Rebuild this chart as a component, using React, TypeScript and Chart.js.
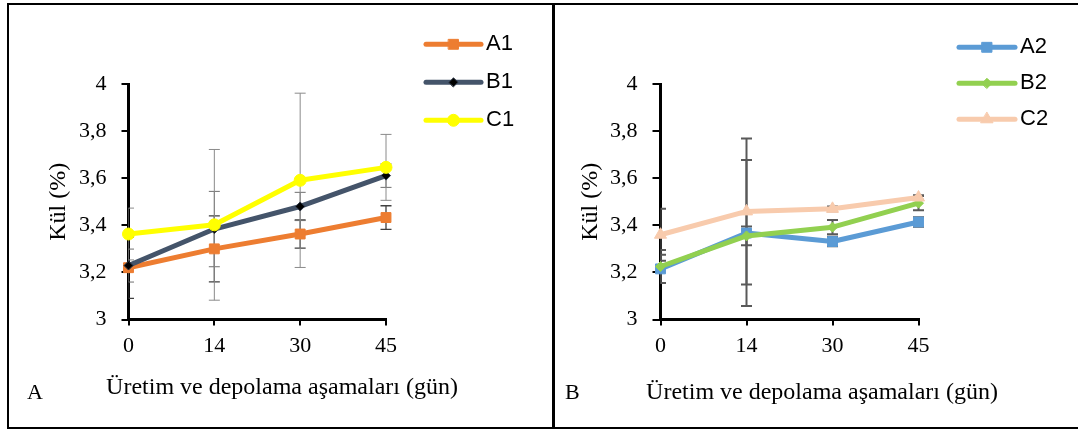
import React, { useEffect, useRef } from 'react';
import { Chart, registerables, PointElement } from 'chart.js';

Chart.register(...registerables);

// ---------- data ----------
const categories = ['0', '14', '30', '45'];
const yTicks = [3, 3.2, 3.4, 3.6, 3.8, 4];

const seriesLeftLabels = ['A1', 'B1', 'C1'];
const a1 = [3.22, 3.30, 3.363, 3.433];
const b1 = [3.229, 3.384, 3.48, 3.611];
const c1 = [3.363, 3.402, 3.591, 3.646];
const a1Err = [0.13, 0.14, 0.06, 0.05];
const b1Err = [0.07, 0.16, 0.06, 0.05];
const c1Err = [0.11, 0.32, 0.37, 0.14];

const seriesRightLabels = ['A2', 'B2', 'C2'];
const a2 = [3.215, 3.367, 3.331, 3.414];
const b2 = [3.225, 3.355, 3.392, 3.494];
const c2 = [3.36, 3.459, 3.47, 3.518];
const a2Err = [0.06, 0.31, 0.02, 0.02];
const b2Err = [0.07, 0.04, 0.03, 0.03];
const c2Err = [0.11, 0.31, 0.01, 0.01];

const xTitle = 'Üretim ve depolama aşamaları (gün)';
const yTitle = 'Kül (%)';

const SERIF = '"Liberation Serif", "Times New Roman", serif';
const SANS = '"Liberation Sans", Arial, sans-serif';

// ---------- plugins ----------
const errorBarPlugin = {
  id: 'errorBars',
  beforeDatasetsDraw(chart: any, _args: any, opts: any) {
    const { ctx, chartArea } = chart;
    const yScale = chart.scales.y;
    ctx.save();
    ctx.beginPath();
    ctx.rect(chartArea.left, chartArea.top - 4, chartArea.right - chartArea.left + 20, chartArea.bottom - chartArea.top + 4);
    ctx.clip();
    chart.data.datasets.forEach((d: any, i: number) => {
      const meta = chart.getDatasetMeta(i);
      (d.errors as number[]).forEach((e: number, j: number) => {
        const v = d.data[j];
        const x = meta.data[j].x;
        const yt = yScale.getPixelForValue(v + e);
        const yb = yScale.getPixelForValue(v - e);
        const cap = opts.cap;
        ctx.strokeStyle = d.errorColor;
        ctx.lineWidth = d.errorWidth;
        ctx.beginPath();
        ctx.moveTo(x, yt);
        ctx.lineTo(x, yb);
        ctx.moveTo(x - cap, yt);
        ctx.lineTo(x + cap, yt);
        ctx.moveTo(x - cap, yb);
        ctx.lineTo(x + cap, yb);
        ctx.stroke();
      });
    });
    ctx.restore();
  },
};

const lineLegendPlugin = {
  id: 'lineLegend',
  afterDraw(chart: any, _args: any, opts: any) {
    const { ctx } = chart;
    chart.data.datasets.forEach((d: any, i: number) => {
      const y = opts.y + i * opts.spacing;
      ctx.save();
      ctx.strokeStyle = d.borderColor;
      ctx.lineWidth = d.borderWidth;
      ctx.lineCap = 'round';
      ctx.beginPath();
      ctx.moveTo(opts.x, y);
      ctx.lineTo(opts.x + opts.length, y);
      ctx.stroke();
      const el = chart.getDatasetMeta(i).data[0] as any;
      const pt: any = new PointElement({ x: opts.x + opts.length / 2, y, options: el.options } as any);
      pt.draw(ctx);
      ctx.fillStyle = '#000';
      ctx.font = `${opts.fontSize}px ${SANS}`;
      ctx.textBaseline = 'middle';
      ctx.textAlign = 'left';
      ctx.fillText(d.label, opts.x + opts.length + opts.gap, y);
      ctx.restore();
    });
  },
};

// ---------- config ----------
type Series = {
  label: string; data: number[]; errors: number[]; color: string; style: string;
  radius: number; bg: string; pbc: string; errColor: string; errWidth: number; order: number;
};

function makeDataset(s: Series) {
  return {
    label: s.label,
    data: s.data,
    errors: s.errors,
    errorColor: s.errColor,
    errorWidth: s.errWidth,
    borderColor: s.color,
    backgroundColor: s.color,
    borderWidth: 5,
    borderJoinStyle: 'round',
    borderCapStyle: 'round',
    pointStyle: s.style,
    pointRadius: s.radius,
    pointBackgroundColor: s.bg,
    pointBorderColor: s.pbc,
    pointBorderWidth: 1,
    tension: 0,
    order: s.order,
    clip: 14,
  };
}

type Geo = {
  padLeft: number; yWidth: number; yTitlePad: number; rightWidth: number;
  titlePadTop: number; titlePadBottom: number; yTickLen: number; yTickPad: number;
  legend: { x: number; y: number; spacing: number; length: number; gap: number; fontSize: number };
};

function makeConfig(series: Series[], g: Geo): any {
  return {
    type: 'line',
    data: { labels: categories, datasets: series.map(makeDataset) },
    plugins: [errorBarPlugin, lineLegendPlugin],
    options: {
      responsive: false,
      animation: false,
      events: [],
      layout: { padding: { left: g.padLeft, right: 0, top: 79, bottom: 0 } },
      plugins: {
        legend: { display: false },
        tooltip: { enabled: false },
        title: {
          display: true,
          position: 'bottom',
          fullSize: true,
          text: xTitle,
          color: '#000',
          font: { family: SERIF, size: 24, weight: 'normal', lineHeight: 1.2 },
          padding: { top: g.titlePadTop, bottom: g.titlePadBottom },
        },
        errorBars: { cap: 5.5 },
        lineLegend: g.legend,
      },
      scales: {
        x: {
          type: 'category',
          offset: false,
          afterFit: (s: any) => { s.height = 45; },
          grid: { display: true, drawOnChartArea: false, drawTicks: true, tickLength: 6, color: '#000', lineWidth: 2 },
          border: { display: true, color: '#000', width: 3 },
          ticks: { color: '#000', font: { family: SERIF, size: 22 }, padding: 8, maxRotation: 0 },
        },
        y: {
          type: 'linear',
          min: 3,
          max: 4,
          afterBuildTicks: (s: any) => { s.ticks = yTicks.map((v) => ({ value: v })); },
          afterFit: (s: any) => { s.width = g.yWidth; },
          grid: { display: true, drawOnChartArea: false, drawTicks: true, tickLength: g.yTickLen, color: '#000', lineWidth: 2 },
          border: { display: true, color: '#000', width: 3 },
          ticks: {
            color: '#000',
            font: { family: SERIF, size: 22 },
            padding: g.yTickPad,
            callback: (v: any) => String(Math.round(Number(v) * 10) / 10).replace('.', ','),
          },
          title: {
            display: true,
            text: yTitle,
            color: '#000',
            font: { family: SERIF, size: 24, lineHeight: 1.2 },
            padding: { top: g.yTitlePad, bottom: 0 },
          },
        },
        yr: {
          type: 'linear',
          position: 'right',
          display: true,
          afterFit: (s: any) => { s.width = g.rightWidth; },
          grid: { display: false },
          border: { display: false },
          ticks: { display: false },
        },
      },
    },
  };
}

const leftSeries: Series[] = [
  { label: seriesLeftLabels[0], data: a1, errors: a1Err, color: '#ED7D31', style: 'rect', radius: 7, bg: '#ED7D31', pbc: '#ED7D31', errColor: '#404040', errWidth: 1.3, order: 2 },
  { label: seriesLeftLabels[1], data: b1, errors: b1Err, color: '#44546A', style: 'rectRot', radius: 4.5, bg: '#000000', pbc: '#2b3545', errColor: '#6f6f6f', errWidth: 1, order: 1 },
  { label: seriesLeftLabels[2], data: c1, errors: c1Err, color: '#FFFF00', style: 'circle', radius: 6, bg: '#FFFF00', pbc: '#FFFF00', errColor: '#8a8a8a', errWidth: 1, order: 0 },
];

const rightSeries: Series[] = [
  { label: seriesRightLabels[0], data: a2, errors: a2Err, color: '#5B9BD5', style: 'rect', radius: 7, bg: '#5B9BD5', pbc: '#5B9BD5', errColor: '#595959', errWidth: 2, order: 2 },
  { label: seriesRightLabels[1], data: b2, errors: b2Err, color: '#92D050', style: 'rectRot', radius: 5, bg: '#92D050', pbc: '#92D050', errColor: '#595959', errWidth: 2, order: 1 },
  { label: seriesRightLabels[2], data: c2, errors: c2Err, color: '#F8CBAD', style: 'triangle', radius: 7, bg: '#F8CBAD', pbc: '#F8CBAD', errColor: '#595959', errWidth: 2, order: 0 },
];

const leftGeo: Geo = {
  padLeft: 3, yWidth: 116.5, yTitlePad: 32.6, rightWidth: 166,
  titlePadTop: 9.1, titlePadBottom: 24.6, yTickLen: 7, yTickPad: 15,
  legend: { x: 417, y: 39.3, spacing: 38, length: 55, gap: 5, fontSize: 22 },
};

const rightGeo: Geo = {
  padLeft: 0, yWidth: 105.5, yTitlePad: 21.6, rightWidth: 170.5,
  titlePadTop: 14.1, titlePadBottom: 19.6, yTickLen: 8, yTickPad: 15,
  legend: { x: 404, y: 42.3, spacing: 36, length: 56, gap: 5, fontSize: 22 },
};

function ChartCanvas(props: { left: number; top: number; width: number; height: number; build: () => any }) {
  const ref = useRef<HTMLCanvasElement | null>(null);
  useEffect(() => {
    if (!ref.current) return;
    const chart = new Chart(ref.current, props.build());
    return () => chart.destroy();
  }, []);
  return (
    <canvas
      ref={ref}
      width={props.width}
      height={props.height}
      style={{ position: 'absolute', left: props.left, top: props.top, width: props.width, height: props.height }}
    />
  );
}

const line = (l: number, t: number, w: number, h: number) => (
  <div style={{ position: 'absolute', left: l, top: t, width: w, height: h, background: '#000' }} />
);

export default function App() {
  return (
    <div style={{ position: 'absolute', left: 0, top: 0, width: 1078, height: 430, overflow: 'hidden', background: '#fff' }}>
      <ChartCanvas left={9} top={5} width={543} height={422} build={() => makeConfig(leftSeries, leftGeo)} />
      <ChartCanvas left={555} top={5} width={534} height={422} build={() => makeConfig(rightSeries, rightGeo)} />
      {line(7, 3, 1071, 2)}
      {line(7, 3, 2, 426)}
      {line(7, 427, 1071, 2)}
      {line(552, 3, 3, 426)}
      <span style={{ position: 'absolute', left: 27, top: 381, fontFamily: SERIF, fontSize: 22, lineHeight: '22px', color: '#000' }}>A</span>
      <span style={{ position: 'absolute', left: 565, top: 381, fontFamily: SERIF, fontSize: 22, lineHeight: '22px', color: '#000' }}>B</span>
    </div>
  );
}
